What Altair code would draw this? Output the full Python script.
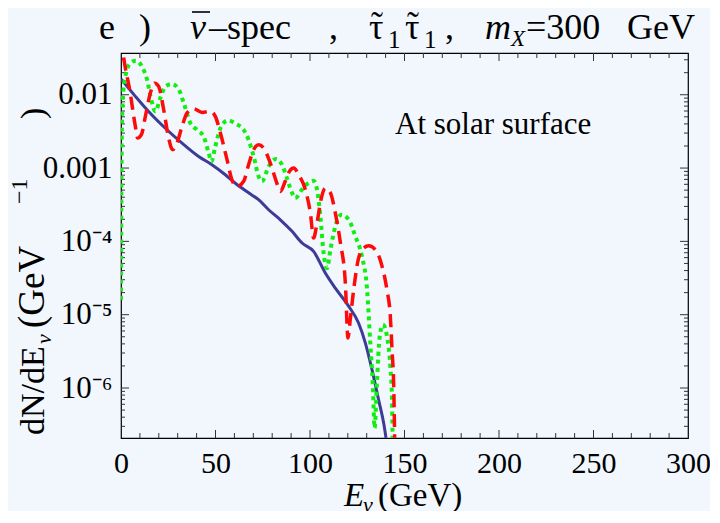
import altair as alt
import pandas as pd

# ---------------- data ----------------
blue_E = [0, 7.6, 14.6, 24.3, 32.3, 41.1, 48.1, 55.2, 60.5, 67.5, 72.8, 78.1, 84.3, 90.5,
          95.8, 101.9, 108.1, 113.4, 120.5, 125.7, 129.3, 132.8, 136.3, 139.0, 140.2]
blue_y = [1.64e-2, 9.5e-3, 5.9e-3, 3.33e-3, 2.19e-3, 1.44e-3, 1.11e-3, 8.1e-4, 6.2e-4, 4.6e-4,
          3.7e-4, 2.7e-4, 1.97e-4, 1.37e-4, 9.5e-5, 7.3e-5, 3.7e-5, 2.3e-5, 1.3e-5, 7.7e-6,
          4.1e-6, 1.78e-6, 6.9e-7, 3.3e-7, 2.1e-7]

red_E = [0.2, 0.9, 4.9, 7.6, 8.8, 10.8, 12.9, 15.5, 17.8, 19.9, 22.6, 25.2, 27.3, 29.6, 32.3,
         34.9, 38.4, 42.9, 47.3, 49.9, 52.6, 56.1, 58.7, 61.4, 64.9, 67.5, 70.2, 72.8, 75.5,
         79.0, 82.5, 84.3, 86.9, 89.1, 91.4, 94.0, 97.5, 100.2, 101.9, 103.7, 106.0, 108.1,
         110.8, 113.4, 116.1, 118.7, 120.1, 121.3, 123.1, 125.7, 128.4, 131.0, 134.6, 138.1,
         140.7, 142.5, 143.4, 144.3, 144.8]
red_y = [6e-2, 4.1e-2, 1.05e-2, 3.7e-3, 2.57e-3, 2.85e-3, 5.07e-3, 1.05e-2, 1.44e-2, 1.3e-2,
         6.24e-3, 2.57e-3, 1.78e-3, 2.19e-3, 3.7e-3, 5.62e-3, 6.44e-3, 5.74e-3, 5.93e-3,
         5.07e-3, 3.0e-3, 1.3e-3, 6.9e-4, 5.6e-4, 6.6e-4, 1.11e-3, 1.78e-3, 2.08e-3, 1.87e-3,
         1.17e-3, 6.2e-4, 4.8e-4, 6.6e-4, 9.0e-4, 1.0e-3, 8.1e-4, 5.1e-4, 2.43e-4, 1.11e-4,
         1.78e-4, 3.9e-4, 5.3e-4, 4.6e-4, 2.43e-4, 9.5e-5, 2.7e-5, 4.8e-6, 8.6e-6, 2.19e-5,
         5.9e-5, 8.1e-5, 8.7e-5, 7.7e-5, 4.6e-5, 2.19e-5, 9.5e-6, 3.3e-6, 1.05e-6, 2.1e-7]

green_E = [0, 0.35, 0.9, 2.3, 4.9, 7.9, 11.1, 13.8, 16.0, 18.2, 20.8, 23.5, 27.0, 30.5, 33.2,
           36.7, 40.2, 43.7, 46.4, 47.8, 49.9, 52.6, 56.6, 60.5, 64.9, 67.5, 70.2, 72.8, 74.6,
           78.1, 82.0, 85.2, 87.8, 90.5, 92.2, 95.8, 98.9, 101.9, 103.7, 105.5, 107.2, 109.0,
           110.8, 113.4, 116.6, 120.5, 124.0, 127.5, 130.2, 131.9, 133.2, 134.2, 135.4, 136.9,
           138.6, 140.7, 142.5, 143.4, 143.7]
green_y = [1.6e-5, 1.78e-3, 8.55e-3, 1.78e-2, 2.7e-2, 2.91e-2, 2.43e-2, 1.6e-2, 8.55e-3,
           5.93e-3, 9.0e-3, 1.3e-2, 1.4e-2, 1.19e-2, 7.7e-3, 4.1e-3, 3.33e-3, 2.7e-3, 1.6e-3,
           1.23e-3, 1.97e-3, 3.5e-3, 4.47e-3, 4.03e-3, 3.33e-3, 2.43e-3, 1.44e-3, 7.7e-4,
           6.6e-4, 1.05e-3, 1.33e-3, 1.11e-3, 7.3e-4, 4.6e-4, 3.9e-4, 5.1e-4, 6.2e-4, 6.7e-4,
           5.1e-4, 2.19e-4, 6.9e-5, 4.3e-5, 7.7e-5, 1.6e-4, 2.31e-4, 1.97e-4, 1.17e-4, 6.2e-5,
           2.19e-5, 4.1e-6, 1.17e-6, 2.85e-7, 1.17e-6, 5.1e-6, 7.3e-6, 5.1e-6, 1.97e-6,
           6.9e-7, 2.1e-7]

x_label_values = [0, 50, 100, 150, 200, 250, 300]
x_major_ticks = [50, 100, 150, 200, 250]
x_minor_ticks = [v for v in range(10, 300, 10) if v % 50 != 0]
y_label_values = [1e-2, 1e-3, 1e-4, 1e-5, 1e-6]
y_minor_ticks = [k * 10.0 ** d for d in range(-7, -1) for k in range(2, 10)]
y_minor_ticks = [v for v in y_minor_ticks if 2.08e-7 < v < 0.0371]

# ---------------- layout ----------------
W, H = 567, 385
SERIF = "Liberation Serif"
BG = "#f1f7fd"

xscale = alt.Scale(domain=[0, 300], nice=False, zero=False)
yscale = alt.Scale(type="log", domain=[2.08e-7, 0.0371], nice=False)

x_axis = alt.Axis(values=x_label_values, ticks=False, domain=False, grid=False,
                  labelFont=SERIF, labelFontSize=30, labelColor="black",
                  labelPadding=10, labelFlush=False, labelOverlap=False, title=None)
y_axis = alt.Axis(values=y_label_values, ticks=False, domain=False, grid=False,
                  labelFont=SERIF, labelFontSize=31, labelColor="black",
                  labelPadding=9, labelOverlap=False, title=None,
                  labelExpr="datum.value > 0.005 ? '0.01' : datum.value > 0.0005 ? '0.001' : "
                            "datum.value > 0.00005 ? '10⁻⁴' : datum.value > 0.000005 ? '10⁻⁵' : '10⁻⁶'")


def curve(E, Y, **mk):
    df = pd.DataFrame({"E": E, "y": Y})
    return alt.Chart(df).mark_line(clip=True, interpolate="monotone", **mk).encode(
        x=alt.X("E:Q", scale=xscale, axis=x_axis),
        y=alt.Y("y:Q", scale=yscale, axis=y_axis),
    )


blue = curve(blue_E, blue_y, color="#3c3c98", strokeWidth=3)
green = curve(green_E, green_y, color="#11ee11", strokeWidth=4, strokeDash=[4, 4])
red = curve(red_E, red_y, color="#ff0a0a", strokeWidth=3.5, strokeDash=[13, 7])


def xticks(vals, y0, y1):
    return alt.Chart(pd.DataFrame({"E": vals})).mark_rule(color="#333333", strokeWidth=1).encode(
        x=alt.X("E:Q", scale=xscale, axis=x_axis), y=alt.value(y0), y2=alt.value(y1))


def yticks(vals, x0, x1):
    return alt.Chart(pd.DataFrame({"v": vals})).mark_rule(color="#333333", strokeWidth=1).encode(
        y=alt.Y("v:Q", scale=yscale, axis=y_axis), x=alt.value(x0), x2=alt.value(x1))


ticks = [
    xticks(x_major_ticks, H, H - 8), xticks(x_minor_ticks, H, H - 5),
    xticks(x_major_ticks, 0, 8), xticks(x_minor_ticks, 0, 5),
    yticks(y_label_values, 0, 8), yticks(y_minor_ticks, 0, 4),
    yticks(y_label_values, W, W - 8), yticks(y_minor_ticks, W, W - 4),
]

OX, OY = 121, 53  # plot origin on the page


def txt(s, x, y, size=31, style="normal", align="left", angle=0, baseline="alphabetic"):
    return alt.Chart(pd.DataFrame({"t": [s]})).mark_text(
        font=SERIF, fontSize=size, fontStyle=style, align=align, baseline=baseline,
        angle=angle, color="black", clip=False).encode(
        text="t:N", x=alt.value(x - OX), y=alt.value(y - OY))


def bar(x0, x1, y):
    return alt.Chart(pd.DataFrame({"t": [0]})).mark_rule(color="black", strokeWidth=1.6).encode(
        x=alt.value(x0 - OX), x2=alt.value(x1 - OX), y=alt.value(y - OY))


TB = 39   # title baseline on the page
TS = 36   # title font size
texts = [
    txt("e", 99, TB, TS), txt(")", 139, TB, TS),
    txt("ν", 190, TB, TS, "italic"), bar(192, 210, 12),
    txt("–spec", 209, TB, TS),
    txt(",", 329, TB, TS),
    txt("τ", 369, TB, TS), txt("˜", 377, TB - 2, TS, align="center"), txt("1", 388, TB + 9, 25),
    txt("τ", 405, TB, TS), txt("˜", 413, TB - 2, TS, align="center"), txt("1", 424, TB + 9, 25),
    txt(",", 445, TB, TS),
    txt("m", 485, TB, TS, "italic"), txt("X", 511, TB + 7, 23, "italic"),
    txt("=300", 526, TB, TS), txt("GeV", 627, TB, TS),
    txt("At solar surface", 395, 134, 31),
    txt("E", 344, 506, 33, "italic"), txt("ν", 363, 512, 22, "italic"),
    txt("(GeV)", 378, 506, 33),
    txt("dN/dE", 44, 435, 34, angle=270),
    txt("ν", 51, 344, 22, "italic", angle=270),
    txt("(GeV", 44, 328, 37, angle=270),
    txt("−1", 27, 204, 24, angle=270),
    txt(")", 44, 119, 34, angle=270),
]

chart = alt.layer(*ticks, blue, green, red, *texts).properties(
    width=W, height=H,
    autosize=alt.AutoSizeParams(type="none"),
    padding={"left": OX - 8, "top": OY - 8, "right": 22, "bottom": 73},
    background=BG,
).configure_view(stroke="black", strokeWidth=1.2, fill=BG)

chart.save("out.html", embed_options={"renderer": "svg", "actions": False})
